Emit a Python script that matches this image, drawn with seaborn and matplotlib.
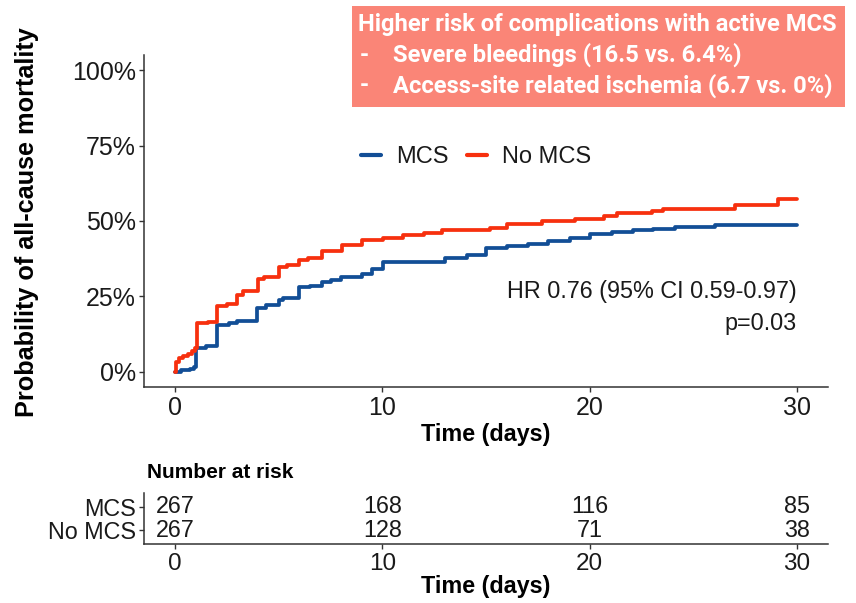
import numpy as np
import pandas as pd
import matplotlib
matplotlib.use("Agg")
import matplotlib.pyplot as plt
import seaborn as sns
from matplotlib.lines import Line2D
from matplotlib.patches import Rectangle

# ---- data ----
mcs_days = [0, 0.3, 0.7, 0.9, 1.03, 1.5, 2.02, 2.6, 3.0, 3.95, 4.4, 5.0, 5.2, 6.0, 6.5,
            7.08, 7.5, 8.0, 9.0, 9.5, 10.05, 13.0, 14.1, 15.0, 16.0, 17.05, 18.0, 19.05,
            20.0, 21.07, 22.1, 23.05, 24.1, 26.05, 30.0]
mcs_mort = [0, 0.6, 1.1, 1.6, 8.0, 8.5, 15.6, 16.2, 17.0, 21.3, 22.2, 23.8, 24.5, 28.1, 28.6,
            29.8, 30.6, 31.5, 32.6, 34.0, 36.4, 37.9, 38.6, 40.9, 41.7, 42.5, 43.3, 44.4,
            45.6, 46.4, 46.9, 47.5, 48.0, 48.6, 48.6]
nomcs_days = [0, 0.05, 0.2, 0.4, 0.6, 0.8, 0.95, 1.05, 1.6, 2.0, 2.5, 2.97, 3.3, 4.0, 4.3,
              5.0, 5.4, 6.0, 6.4, 7.08, 8.04, 9.0, 10.05, 11.0, 12.0, 12.9, 15.2, 16.0,
              17.7, 19.3, 20.7, 21.3, 23.0, 23.55, 27.0, 29.1, 30.0]
nomcs_mort = [0, 3.4, 4.5, 5.3, 6.0, 6.8, 7.8, 16.1, 16.7, 21.8, 22.5, 25.5, 26.8, 30.8, 31.6,
              34.6, 35.3, 37.2, 37.8, 40.1, 42.0, 43.6, 44.5, 45.2, 46.0, 46.9, 47.8, 48.9,
              49.9, 50.8, 51.7, 52.5, 53.2, 54.1, 55.2, 57.2, 57.2]
groups = ["MCS", "No MCS"]
risk_times = [0, 10, 20, 30]
risk_mcs = [267, 168, 116, 85]
risk_nomcs = [267, 128, 71, 38]
x_ticks = [0, 10, 20, 30]
y_ticks = [0, 25, 50, 75, 100]
y_ticklabels = ["0%", "25%", "50%", "75%", "100%"]
box_lines = ["Higher risk of complications with active MCS",
             "Severe bleedings (16.5 vs. 6.4%)",
             "Access-site related ischemia (6.7 vs. 0%)"]
hr_text = "HR 0.76 (95% CI 0.59-0.97)"
p_text = "p=0.03"

colors = {"MCS": "#124E96", "No MCS": "#F7300E"}
ink = "#1a1a1a"

sns.set_style("ticks")
plt.rcParams["font.family"] = ["Liberation Sans", "DejaVu Sans"]

W, H = 856, 603
fig = plt.figure(figsize=(W / 100, H / 100), dpi=100)

def fx(px):
    return px / W

def fy(py):
    return 1 - py / H

# ---- main KM plot ----
ax = fig.add_axes([fx(144), fy(387), fx(828) - fx(144), fy(55) - fy(387)])
df = pd.concat([
    pd.DataFrame({"day": mcs_days, "mort": mcs_mort, "group": "MCS"}),
    pd.DataFrame({"day": nomcs_days, "mort": nomcs_mort, "group": "No MCS"}),
], ignore_index=True)
sns.lineplot(data=df, x="day", y="mort", hue="group", palette=colors,
             estimator=None, sort=False, drawstyle="steps-post",
             linewidth=2.7, ax=ax, legend=False)
ax.set_xlim(-1.5, 31.5)
ax.set_ylim(-5, 105)
ax.set_xticks(x_ticks)
ax.set_yticks(y_ticks)
ax.set_yticklabels(y_ticklabels)
ax.set_xlabel("")
ax.set_ylabel("")
sns.despine(ax=ax)
for s in ["left", "bottom"]:
    ax.spines[s].set_color("#333333")
    ax.spines[s].set_linewidth(1.1)
ax.tick_params(axis="both", labelsize=18, colors="#333333", labelcolor=ink,
               length=3.3, width=1.0, pad=2.5)
ax.tick_params(axis="x", pad=3.5)

handles = [Line2D([0], [0], color=colors[g], lw=3) for g in groups]
leg = ax.legend(handles, groups, ncol=2, frameon=False, fontsize=17,
                loc="center", bbox_to_anchor=(fx(476), fy(157)),
                bbox_transform=fig.transFigure,
                handlelength=0.85, handletextpad=0.65, columnspacing=0.75)
for t in leg.get_texts():
    t.set_color(ink)

ax.text(30, 26.6, hr_text, ha="right", va="center", fontsize=16.8, color=ink)
ax.text(30, 16.2, p_text, ha="right", va="center", fontsize=16.8, color=ink)

fig.text(fx(486), fy(434), "Time (days)", ha="center", va="center",
         fontsize=16.8, fontweight="bold", color="black")
fig.text(fx(27), fy(222), "Probability of all-cause mortality", ha="center",
         va="center", rotation=90, fontsize=18.2, fontweight="bold", color="black")

# ---- annotation box ----
fig.patches.append(Rectangle((fx(352), fy(107)), fx(845) - fx(352), fy(6) - fy(107),
                             transform=fig.transFigure, facecolor="#FA8577",
                             edgecolor="none", zorder=0))
box_font = ["Roboto", "DejaVu Sans"]
fig.text(fx(358), fy(24), box_lines[0], ha="left", va="center", fontsize=17.1,
         fontweight="bold", color="white", family=box_font)
for line, py in zip(box_lines[1:], [55, 86]):
    fig.text(fx(360), fy(py), "-", ha="left", va="center", fontsize=17.1,
             fontweight="bold", color="white", family=box_font)
    fig.text(fx(393), fy(py), line, ha="left", va="center", fontsize=17.1,
             fontweight="bold", color="white", family=box_font)

# ---- risk table ----
ax2 = fig.add_axes([fx(144), fy(544.3), fx(828) - fx(144), fy(492.7) - fy(544.3)])
ax2.set_xlim(-1.5, 31.5)
ax2.set_ylim(0.4, 2.6)
for t, n1, n2 in zip(risk_times, risk_mcs, risk_nomcs):
    ax2.text(t, 2, str(n1), ha="center", va="center", fontsize=16.8, color=ink)
    ax2.text(t, 1, str(n2), ha="center", va="center", fontsize=16.8, color=ink)
ax2.set_xticks(x_ticks)
ax2.set_yticks([2, 1])
ax2.set_yticklabels(groups)
sns.despine(ax=ax2)
for s in ["left", "bottom"]:
    ax2.spines[s].set_color("#333333")
    ax2.spines[s].set_linewidth(1.1)
ax2.tick_params(axis="both", labelsize=16.8, colors="#333333", labelcolor=ink,
                length=3.3, width=1.0, pad=2.5)
ax2.tick_params(axis="x", labelsize=17.5, pad=3)
fig.text(fx(147), fy(472), "Number at risk", ha="left", va="center",
         fontsize=15, fontweight="bold", color="black")
fig.text(fx(486), fy(587), "Time (days)", ha="center", va="center",
         fontsize=16.8, fontweight="bold", color="black")

fig.savefig("out.png", dpi=100)
